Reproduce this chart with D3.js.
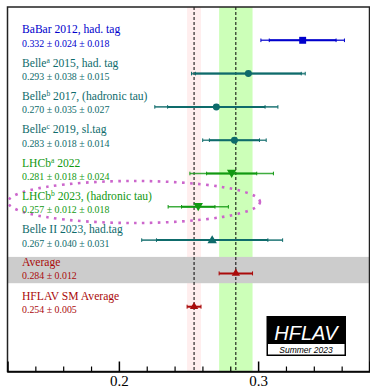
<!DOCTYPE html>
<html>
<head>
<meta charset="utf-8">
<script src="https://cdn.jsdelivr.net/npm/d3@7"></script>
<style>
  body { margin: 0; background: #fff; }
  svg { display: block; }
</style>
</head>
<body>
<svg id="svg"></svg>
<script>
// measurements
const names  = ["BaBar", "Belle", "Belle", "Belle", "LHCb", "LHCb", "Belle II"];
const sups   = ["", "a", "b", "c", "a", "b", ""];
const tails  = [" 2012, had. tag", " 2015, had. tag", " 2017, (hadronic tau)", " 2019, sl.tag",
                " 2022", " 2023, (hadronic tau)", " 2023, had.tag"];
const values = [0.332, 0.293, 0.270, 0.283, 0.281, 0.257, 0.267];
const stats  = [0.024, 0.038, 0.035, 0.018, 0.018, 0.012, 0.040];
const systs  = [0.018, 0.015, 0.027, 0.014, 0.024, 0.018, 0.031];
const colors = ["#0000cc", "#0e6b6b", "#0e6b6b", "#0e6b6b", "#119911", "#119911", "#0e6b6b"];
const shapes = ["square", "circle", "circle", "circle", "down", "down", "up"];

// averages
const avgValue = 0.284, avgErr = 0.012;
const smValue = 0.254, smErr = 0.005;

const majorTicks = [0.2, 0.3];
const minorTicks = [0.14, 0.16, 0.18, 0.22, 0.24, 0.26, 0.28, 0.32, 0.34, 0.36];

const W = 370, H = 389;
const fl = 7.5, fr = 369.5, ft = 7, fb = 371.5;
const serif = '"Liberation Serif", "Times New Roman", serif';
const sans = '"Liberation Sans", Arial, sans-serif';

const svg = d3.select('#svg').attr('width', W).attr('height', H);

const x = d3.scaleLinear().domain([0.12, 0.38]).range([fl, fr]);
const rowY = i => 40.3 + 33.3 * i;

// bands
svg.append('rect')
  .attr('x', x(smValue - smErr)).attr('y', ft)
  .attr('width', x(smValue + smErr) - x(smValue - smErr)).attr('height', fb - ft)
  .attr('fill', '#ffeeee');
svg.append('rect')
  .attr('x', x(avgValue - avgErr)).attr('y', ft)
  .attr('width', x(avgValue + avgErr) - x(avgValue - avgErr)).attr('height', fb - ft)
  .attr('fill', '#ccffb8');
svg.append('rect')
  .attr('x', fl).attr('y', rowY(7) - 16.5)
  .attr('width', fr - fl).attr('height', 26.3)
  .attr('fill', '#cccccc');

// dashed central lines
[smValue, avgValue].forEach(v => {
  svg.append('line')
    .attr('x1', x(v)).attr('x2', x(v)).attr('y1', ft).attr('y2', fb)
    .attr('stroke', '#000').attr('stroke-width', 1).attr('stroke-dasharray', '3,2');
});

// frame
svg.append('rect')
  .attr('x', fl).attr('y', ft).attr('width', fr - fl).attr('height', fb - ft)
  .attr('fill', 'none').attr('stroke', '#222').attr('stroke-width', 1.5);

// axis
const axisMajor = d3.axisBottom(x).tickValues(majorTicks).tickSize(-10).tickPadding(4)
  .tickFormat(d3.format('.1f'));
const gMaj = svg.append('g').attr('transform', `translate(0,${fb})`).call(axisMajor);
gMaj.select('.domain').attr('stroke', '#000').attr('stroke-width', 1.5);
gMaj.selectAll('.tick line').attr('stroke-width', 1.5);
gMaj.selectAll('.tick text')
  .style('font-family', serif).style('font-size', '15px').attr('fill', '#000');

const axisMinor = d3.axisBottom(x).tickValues(minorTicks).tickSize(-5).tickFormat('');
const gMin = svg.append('g').attr('transform', `translate(0,${fb})`).call(axisMinor);
gMin.select('.domain').remove();
gMin.selectAll('.tick line').attr('stroke-width', 1.2);

// ellipse highlighting LHCb 2023
svg.append('ellipse')
  .attr('cx', 134).attr('cy', 202).attr('rx', 126).attr('ry', 21)
  .attr('fill', 'none').attr('stroke', '#cc66cc').attr('stroke-width', 2.6)
  .attr('stroke-dasharray', '2.6,5.4');

function marker(shape, size) {
  if (shape === 'square') return d3.symbol().type(d3.symbolSquare).size(size)();
  if (shape === 'circle') return d3.symbol().type(d3.symbolCircle).size(size * 0.8)();
  return d3.symbol().type(d3.symbolTriangle).size(size * 0.8)();
}

// measurements
values.forEach((v, i) => {
  const y = rowY(i);
  const tot = Math.sqrt(stats[i] * stats[i] + systs[i] * systs[i]);
  const c = colors[i];
  const g = svg.append('g');
  g.append('line')
    .attr('x1', x(v - tot)).attr('x2', x(v + tot)).attr('y1', y).attr('y2', y)
    .attr('stroke', c).attr('stroke-width', 1.6).attr('opacity', 0.8);
  g.append('line')
    .attr('x1', x(v - stats[i])).attr('x2', x(v + stats[i])).attr('y1', y).attr('y2', y)
    .attr('stroke', c).attr('stroke-width', 2);
  [v - tot, v + tot, v - stats[i], v + stats[i]].forEach(e => {
    g.append('line')
      .attr('x1', x(e)).attr('x2', x(e)).attr('y1', y - 1.8).attr('y2', y + 1.8)
      .attr('stroke', c).attr('stroke-width', 1);
  });
  g.append('path')
    .attr('d', marker(shapes[i], 48))
    .attr('transform', `translate(${x(v)},${y + (shapes[i] === 'down' ? -1 : shapes[i] === 'up' ? 0.5 : 0)})` + (shapes[i] === 'down' ? ' rotate(180)' : ''))
    .attr('fill', c);

  const lab = svg.append('text').attr('x', 22).attr('y', y - 7)
    .style('font-family', serif).style('font-size', '11.6px').attr('fill', c);
  lab.append('tspan').text(names[i]);
  if (sups[i]) lab.append('tspan').attr('dy', -4).style('font-size', '7.5px').text(sups[i]);
  lab.append('tspan').attr('dy', sups[i] ? 4 : 0).text(tails[i]);

  svg.append('text').attr('x', 22).attr('y', y + 6.5)
    .style('font-family', serif).style('font-size', '9.9px').attr('fill', c)
    .text(`${v.toFixed(3)} \u00b1 ${stats[i].toFixed(3)} \u00b1 ${systs[i].toFixed(3)}`);
});

// averages
const avgColor = '#aa0a0a';
[[avgValue, avgErr, 7, 'Average'], [smValue, smErr, 8, 'HFLAV SM Average']].forEach(([v, e, i, name]) => {
  const y = rowY(i);
  svg.append('line')
    .attr('x1', x(v - e)).attr('x2', x(v + e)).attr('y1', y).attr('y2', y)
    .attr('stroke', avgColor).attr('stroke-width', 2);
  [v - e, v + e].forEach(t => {
    svg.append('line')
      .attr('x1', x(t)).attr('x2', x(t)).attr('y1', y - 2).attr('y2', y + 2)
      .attr('stroke', avgColor).attr('stroke-width', 1);
  });
  svg.append('path')
    .attr('d', d3.symbol().type(d3.symbolTriangle).size(30)())
    .attr('transform', `translate(${x(v)},${y})`)
    .attr('fill', avgColor);
  svg.append('text').attr('x', 22).attr('y', y - 7)
    .style('font-family', serif).style('font-size', '11.6px').attr('fill', avgColor).text(name);
  svg.append('text').attr('x', 22).attr('y', y + 6)
    .style('font-family', serif).style('font-size', '9.9px').attr('fill', avgColor)
    .text(`${v.toFixed(3)} \u00b1 ${e.toFixed(3)}`);
});

// HFLAV logo
const logo = svg.append('g');
logo.append('rect').attr('x', 266.5).attr('y', 316).attr('width', 79.5).attr('height', 40)
  .attr('fill', '#000');
logo.append('rect').attr('x', 268).attr('y', 344).attr('width', 76.5).attr('height', 10.5)
  .attr('fill', '#fff');
logo.append('text').attr('x', 306).attr('y', 339.5).attr('text-anchor', 'middle')
  .style('font-family', sans).style('font-style', 'italic')
  .style('font-size', '20px').attr('fill', '#fff').text('HFLAV');
logo.append('text').attr('x', 306).attr('y', 352.5).attr('text-anchor', 'middle')
  .style('font-family', sans).style('font-style', 'italic')
  .style('font-size', '8.5px').attr('fill', '#000').text('Summer 2023');
</script>
</body>
</html>
